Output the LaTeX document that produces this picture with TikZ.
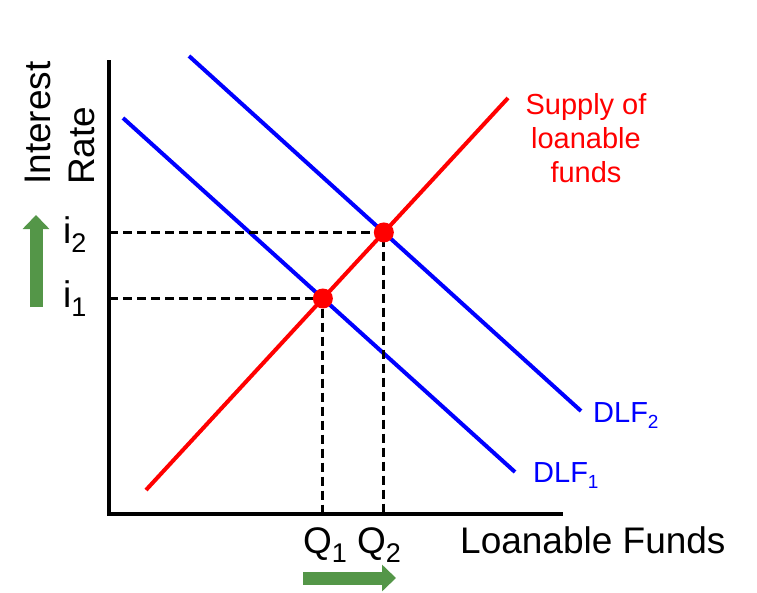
\documentclass[tikz,border=0pt]{standalone}
\usepackage{fontspec}
\setmainfont{Liberation Sans}
\usetikzlibrary{arrows.meta,intersections}
\definecolor{shiftgreen}{RGB}{84,150,72}
\newcommand{\bigsub}[1]{\raisebox{-9pt}{\fontsize{27}{27}\selectfont #1}}
\newcommand{\smallsub}[1]{\raisebox{-6pt}{\fontsize{19}{19}\selectfont #1}}

\begin{document}
\begin{tikzpicture}[x=1pt, y=-1pt,
    curve/.style={line width=4pt},
    guide/.style={line width=3.2pt, dash pattern=on 9pt off 5pt},
    bigtxt/.style={font=\fontsize{37}{40}\selectfont, inner sep=0pt},
    smalltxt/.style={font=\fontsize{29}{34}\selectfont, inner sep=0pt},
    shiftarrow/.style={shiftgreen, line width=13pt, -{Triangle[length=14pt, width=26pt]}},
    eqdot/.style={circle, fill=red, minimum size=20pt, inner sep=0pt}
]
    \useasboundingbox (0,0) rectangle (757,592);

    % Axes
    \coordinate (origin) at (109,514);
    \coordinate (ytop) at (109,60);
    \coordinate (xend) at (563,514);
    \draw[line width=4pt] (ytop) -- (origin) -- (xend);

    % Curves
    \coordinate (s0) at (146,490);
    \coordinate (s1) at (508,98);
    \coordinate (da0) at (123,118);
    \coordinate (da1) at (515,472);
    \coordinate (db0) at (189,56);
    \coordinate (db1) at (581,411);
    \draw[curve, red, name path=supply] (s0) -- (s1);
    \draw[curve, blue, name path=dlfone] (da0) -- (da1);
    \draw[curve, blue, name path=dlftwo] (db0) -- (db1);

    % Equilibria
    \path[name intersections={of=supply and dlfone, by=eone}];
    \path[name intersections={of=supply and dlftwo, by=etwo}];
    \coordinate (ione) at (eone -| origin);
    \coordinate (itwo) at (etwo -| origin);
    \coordinate (qone) at (eone |- origin);
    \coordinate (qtwo) at (etwo |- origin);
    \draw[guide] (ione) -- (eone) -- (qone);
    \draw[guide] (itwo) -- (etwo) -- (qtwo);
    \node[eqdot] (dotone) at (eone) {};
    \node[eqdot] (dottwo) at (etwo) {};

    % Labels
    \node[bigtxt, rotate=90, anchor=base west] (ylabA) at (50,185) {Interest};
    \node[bigtxt, rotate=90, anchor=base west] (ylabB) at (94,185) {Rate};
    \node[bigtxt, anchor=base west] (labitwo) at (63,243) {i\bigsub{2}};
    \node[bigtxt, anchor=base west] (labione) at (63,307) {i\bigsub{1}};
    \node[bigtxt, anchor=base west] (labqone) at (303,553) {Q\bigsub{1}};
    \node[bigtxt, anchor=base west] (labqtwo) at (357,553) {Q\bigsub{2}};
    \node[bigtxt, anchor=base west] (xlab) at (460,553) {Loanable Funds};
    \node[smalltxt, red, align=center, anchor=north] (supplylab) at (586,93) {Supply of\\loanable\\funds};
    \node[smalltxt, blue, anchor=base west] (dlftwolab) at (593,422) {DLF\smallsub{2}};
    \node[smalltxt, blue, anchor=base west] (dlfonelab) at (533,482) {DLF\smallsub{1}};

    % Shift arrows
    \coordinate (upA) at (36,307);
    \coordinate (upB) at (36,215);
    \coordinate (rtA) at (303,578);
    \coordinate (rtB) at (396,578);
    \draw[shiftarrow] (upA) -- (upB);
    \draw[shiftarrow] (rtA) -- (rtB);
\end{tikzpicture}
\end{document}
